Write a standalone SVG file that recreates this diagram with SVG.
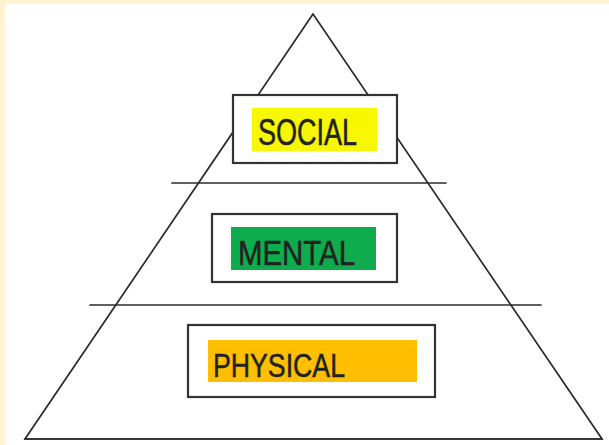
<svg xmlns="http://www.w3.org/2000/svg" width="609" height="445" viewBox="0 0 609 445">
<style>
.bg{fill:#fff3d0}
.line{stroke:#2b2b2b;stroke-width:1.7;fill:none;stroke-linecap:round;stroke-linejoin:miter}
.box{fill:#ffffff;stroke:#333333;stroke-width:2.2}
.lbl{font-family:"Liberation Sans",Arial,sans-serif;fill:#222222;stroke:#222222;stroke-width:0.5}
</style>
<rect class="bg" x="0" y="0" width="609" height="445"/>
<rect x="5" y="4" width="604" height="441" fill="#ffffff"/>
<g id="connectors">
<polygon class="line" points="313,14 25,439 602,439"/>
<line class="line" x1="25" y1="439" x2="602" y2="439" stroke-width="2.2"/>
<line class="line" x1="172" y1="183" x2="446" y2="183"/>
<line class="line" x1="90" y1="305" x2="541" y2="305"/>
</g>
<g id="social">
<rect class="box" x="233" y="95" width="164" height="68"/>
<rect x="252" y="108" width="125" height="43" fill="#f7f700"/>
<text class="lbl" x="258" y="145" font-size="36" textLength="99" lengthAdjust="spacingAndGlyphs">SOCIAL</text>
</g>
<g id="mental">
<rect class="box" x="212" y="214" width="185" height="68"/>
<rect x="231" y="227" width="145" height="43" fill="#0fac4e"/>
<text class="lbl" x="238" y="265" font-size="35" textLength="117" lengthAdjust="spacingAndGlyphs">MENTAL</text>
</g>
<g id="physical">
<rect class="box" x="188" y="325" width="247" height="72"/>
<rect x="208" y="340" width="209" height="42" fill="#ffbf00"/>
<text class="lbl" x="213" y="377" font-size="34" textLength="132" lengthAdjust="spacingAndGlyphs">PHYSICAL</text>
</g>
</svg>
